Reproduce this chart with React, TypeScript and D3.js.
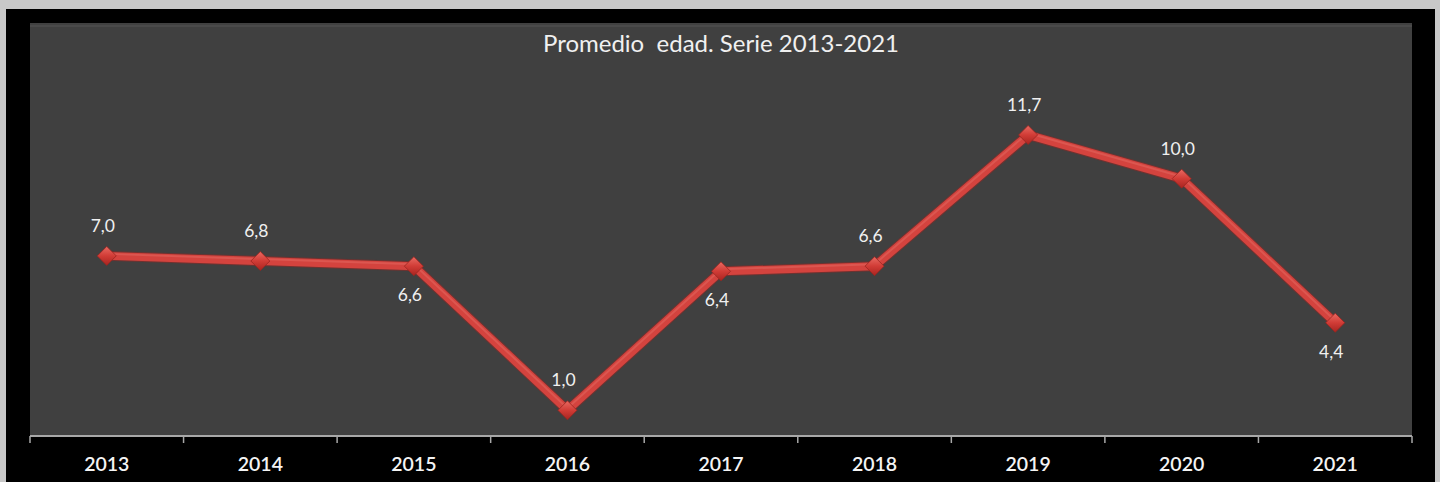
import React from "react";
import * as d3 from "d3";

const years = ["2013", "2014", "2015", "2016", "2017", "2018", "2019", "2020", "2021"];
const values = [7.0, 6.8, 6.6, 1.0, 6.4, 6.6, 11.7, 10.0, 4.4];
const labelBelow = [false, false, true, false, true, false, false, false, true];
const title = "Promedio  edad. Serie 2013-2021";

const W = 1440;
const H = 482;
const plot = { left: 30, right: 1412, top: 23, bottom: 436 };

export default function App() {
  const x = d3.scaleBand<string>().domain(years).range([plot.left, plot.right]).padding(0);
  const y = d3.scaleLinear().domain([0, 16.05]).range([plot.bottom, plot.top]);
  const cx = (i: number) => (x(years[i]) as number) + x.bandwidth() / 2;
  const line = d3
    .line<number>()
    .x((_, i) => cx(i))
    .y((d) => y(d));
  const path = line(values) || "";
  const tickXs = years.map((yr) => x(yr) as number).concat([plot.right]);
  const font = "Lato, 'Open Sans', sans-serif";

  return (
    <div style={{ position: "absolute", left: 0, top: 0, width: W, height: H }}>
      <svg width={W} height={H} style={{ display: "block" }}>
        <defs>
          <linearGradient id="dia" x1="0" y1="0" x2="0" y2="1">
            <stop offset="0" stopColor="#e86a62" />
            <stop offset="0.5" stopColor="#d13c36" />
            <stop offset="1" stopColor="#a82420" />
          </linearGradient>
        </defs>
        <rect x={0} y={0} width={W} height={H} fill="#c8c8c8" />
        <rect x={6} y={9} width={1429} height={H - 9} fill="#000000" />
        <rect
          x={plot.left}
          y={plot.top}
          width={plot.right - plot.left}
          height={plot.bottom - plot.top}
          fill="#404040"
        />
        <line x1={plot.left} x2={plot.right} y1={plot.top + 3} y2={plot.top + 3} stroke="#4a4a4a" strokeWidth={2} />
        <text
          x={(plot.left + plot.right) / 2}
          y={52}
          textAnchor="middle"
          fill="#f0f0f0"
          fontFamily={font}
          fontSize={24}
          style={{ whiteSpace: "pre" }}
        >
          {title}
        </text>
        {/* axis */}
        <line x1={plot.left} x2={plot.right} y1={plot.bottom} y2={plot.bottom} stroke="#a8a8a8" strokeWidth={2} />
        {tickXs.map((tx, i) => (
          <line key={i} x1={tx} x2={tx} y1={plot.bottom} y2={plot.bottom + 7} stroke="#a8a8a8" strokeWidth={1.5} />
        ))}
        {years.map((yr, i) => (
          <text
            key={yr}
            x={cx(i)}
            y={471}
            textAnchor="middle"
            fill="#f4f4f4"
            fontFamily={font}
            fontSize={19.5}
            fontWeight={600}
          >
            {yr}
          </text>
        ))}
        {/* line */}
        <path d={path} fill="none" stroke="#8e2a26" strokeWidth={10} strokeLinejoin="round" opacity={0.6} />
        <path d={path} fill="none" stroke="#d4433e" strokeWidth={8} strokeLinejoin="round" />
        <path d={path} fill="none" stroke="#e36a62" strokeWidth={2} strokeLinejoin="round" opacity={0.5} transform="translate(0,-2)" />
        {values.map((v, i) => {
          const px = cx(i);
          const py = y(v);
          const s = 9.5;
          return (
            <path
              key={i}
              d={`M${px},${py - s}L${px + s},${py}L${px},${py + s}L${px - s},${py}Z`}
              fill="url(#dia)"
              stroke="#9a2420"
              strokeWidth={0.8}
            />
          );
        })}
        {values.map((v, i) => {
          const px = cx(i);
          const py = y(v);
          const dy = labelBelow[i] ? 35 : -24;
          return (
            <text
              key={i}
              x={px - 4}
              y={py + dy}
              textAnchor="middle"
              fill="#f0f0f0"
              fontFamily={font}
              fontSize={17.5}
            >
              {v.toFixed(1).replace(".", ",")}
            </text>
          );
        })}
      </svg>
    </div>
  );
}
